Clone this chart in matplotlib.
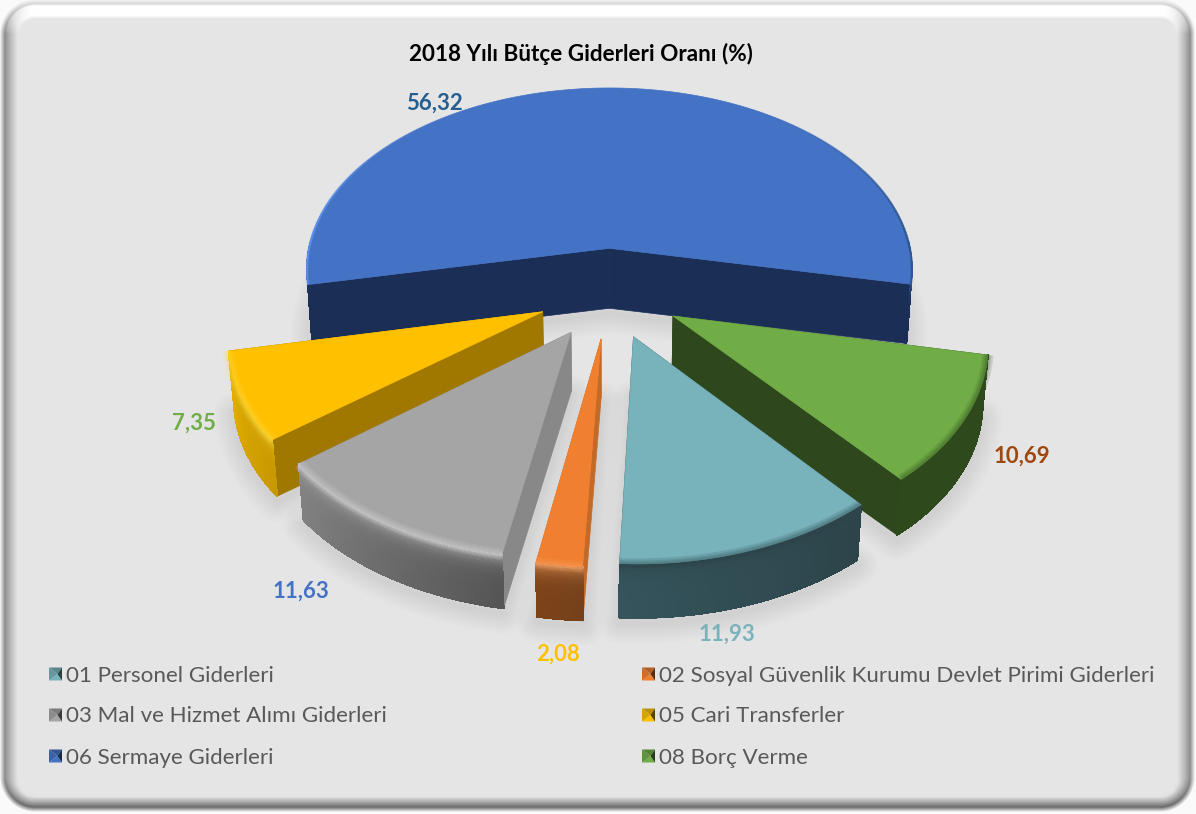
import numpy as np
import matplotlib
matplotlib.use("Agg")
import matplotlib.pyplot as plt
from matplotlib.collections import LineCollection, PolyCollection
from matplotlib.colors import to_rgb
from matplotlib.patches import Polygon

plt.rcParams["font.family"] = ["Lato", "DejaVu Sans"]

title = "2018 Yılı Bütçe Giderleri Oranı (%)"
categories = [
    "01 Personel Giderleri",
    "02 Sosyal Güvenlik Kurumu Devlet Pirimi Giderleri",
    "03 Mal ve Hizmet Alımı Giderleri",
    "05 Cari Transferler",
    "06 Sermaye Giderleri",
    "08 Borç Verme",
]
shares = [11.93, 2.08, 11.63, 7.35, 56.32, 10.69]

top_colors = ["#78b3bc", "#f08030", "#a5a5a5", "#ffc000", "#4472c4", "#70ad47"]
wall_colors = ["#2f474d", "#c46a28", "#888888", "#a07800", "#1a2e56", "#2e471d"]
# outer face colours at the start and the end of each slice
side_start = ["#2c444a", "#75401a", "#555555", "#c89800", "#1a2e56", "#2e4a1d"]
side_end = ["#35545b", "#7c4318", "#808080", "#e2ad00", "#1a2e56", "#2e4a1d"]
rim_tint = ["#2c444a", "#f9a468", "#d4d4d4", "#ffdc40", "#4472c4", "#2e4a1d"]
label_colors = ["#7ab3bb", "#ffc000", "#4472c4", "#70ad47", "#255e91", "#9e480e"]
label_xy = [(727, 634), (558, 654), (301, 591), (194, 423), (434, 103), (1022, 456)]
legend_xy = [(49, 674), (642, 674), (49, 715), (642, 715), (49, 756), (642, 756)]

# view of the tilted disc
CX, CY = 609.5, 292.5
SCALE_X, SCALE_Y, PERSPECTIVE = 309, 189.5, 0.12
EXPLODE_X, EXPLODE_Y = 0.235, 0.24
PULLED_RADIUS = 0.995
FIRST_ANGLE = 139.8
MAIN_SLICE = 4
DRAW_ORDER = [4, 5, 3, 2, 0, 1]


def project(x, y):
    w = 1 + PERSPECTIVE * y
    return CX + SCALE_X * x / w, CY - SCALE_Y * y / w


def drop(sx, sy):
    # the lower face sits a little further away, depth shrinks towards the front
    return CX + (sx - CX) * 0.985, sy + 60 - (sy - 247) * 0.019


def mix(a, b, t):
    a, b = np.array(to_rgb(a)), np.array(to_rgb(b))
    return tuple(a + (b - a) * t)


def panel_image(w, h):
    # bevelled rounded card, shaded from a signed distance to its edge
    x0, y0, x1, y1, r = 5, 4, 1190, 807, 30
    px, py = np.meshgrid(np.arange(w) + 0.5, np.arange(h) + 0.5)
    qx = np.abs(px - (x0 + x1) / 2) - (x1 - x0) / 2 + r
    qy = np.abs(py - (y0 + y1) / 2) - (y1 - y0) / 2 + r
    d = np.hypot(np.maximum(qx, 0), np.maximum(qy, 0)) + np.minimum(np.maximum(qx, qy), 0) - r
    gy, gx = np.gradient(d)
    up = np.clip(-gy / np.maximum(np.hypot(gx, gy), 1e-6), -1, 1)

    t = np.clip(-d / 15, 0, 1)
    flat = 229.0
    top = np.where(t < 0.12, 215 + 40 * t / 0.12, 255 - (255 - flat) * np.clip((t - 0.75) / 0.25, 0, 1))
    side = 140 + (flat - 140) * np.clip(t / 0.85, 0, 1) ** 0.8
    bottom = 105 + (flat - 105) * np.clip(t / 0.7, 0, 1) ** 0.9
    val = np.where(up > 0, side + up * (top - side), side + (-up) * (bottom - side))

    outside = np.clip(d / 5, 0, 1)
    val = val * (1 - outside) + 250 * outside
    return np.clip(val, 0, 255).astype(np.uint8)


fig = plt.figure(figsize=(11.96, 8.14), dpi=100)
ax = fig.add_axes([0, 0, 1, 1])
ax.set_xlim(0, 1196)
ax.set_ylim(814, 0)
ax.axis("off")
ax.imshow(panel_image(1196, 814), cmap="gray", vmin=0, vmax=255,
          extent=(0, 1196, 814, 0), aspect="auto", zorder=0)

# slice outlines on the upper face
spans = np.array(shares) / sum(shares) * 360
slices = []
angle = FIRST_ANGLE
for i, span in enumerate(spans):
    theta = np.radians(np.linspace(angle, angle + span, max(int(span), 8) + 1))
    mid = np.radians(angle + span / 2)
    ox, oy = EXPLODE_X * np.sin(mid), EXPLODE_Y * np.cos(mid)
    radius = 1.0 if i == MAIN_SLICE else PULLED_RADIUS
    rim = project(ox + radius * np.sin(theta), oy + radius * np.cos(theta))
    apex = project(ox, oy)
    slices.append((theta, apex, rim))
    angle += span

# soft contact shadows below all the slices
for theta, apex, rim in slices:
    bx, by = drop(np.r_[apex[0], rim[0]], np.r_[apex[1], rim[1]])
    pts = np.c_[bx, by + 5]
    for lw in range(3, 33, 3):
        ax.add_patch(Polygon(pts, closed=True, fc="none", ec="black", lw=lw,
                             alpha=0.009, joinstyle="round", zorder=1))

z = 2
for i in DRAW_ORDER:
    theta, apex, rim = slices[i]
    rx, ry = rim
    n = len(theta)
    front = [s for s in range(n - 1) if np.cos((theta[s] + theta[s + 1]) / 2) <= 0.03]

    # radial walls, the one further back goes first
    for k in sorted([0, -1], key=lambda k: ry[k]):
        ex, ey = rx[k], ry[k]
        a2, b2 = drop(apex[0], apex[1]), drop(ex, ey)
        ax.add_patch(Polygon([apex, (ex, ey), b2, a2], closed=True, fc=wall_colors[i],
                             ec=wall_colors[i], lw=0.5, zorder=z))

    # outer face, cut into small cells to carry the shading
    cells, cell_colors, floor_lines, floor_colors = [], [], [], []
    bands = np.linspace(0, 1, 31)
    for s in front:
        base = mix(side_start[i], side_end[i], s / max(n - 2, 1))
        xd_a, yd_a = drop(rx[s], ry[s])
        xd_b, yd_b = drop(rx[s + 1], ry[s + 1])
        for v0, v1 in zip(bands[:-1], bands[1:]):
            cells.append([
                (rx[s] + (xd_a - rx[s]) * v0, ry[s] + (yd_a - ry[s]) * v0),
                (rx[s + 1] + (xd_b - rx[s + 1]) * v0, ry[s + 1] + (yd_b - ry[s + 1]) * v0),
                (rx[s + 1] + (xd_b - rx[s + 1]) * v1, ry[s + 1] + (yd_b - ry[s + 1]) * v1),
                (rx[s] + (xd_a - rx[s]) * v1, ry[s] + (yd_a - ry[s]) * v1),
            ])
            cell_colors.append(mix(base, rim_tint[i], np.exp(-((v0 + v1) / 2) / 0.13)))
        floor_lines.append([(xd_a, yd_a), (xd_b, yd_b)])
        floor_colors.append(base)
    if cells:
        ax.add_collection(PolyCollection(cells, facecolors=cell_colors, edgecolors=cell_colors,
                                         linewidths=0.7, antialiased=False, zorder=z + 1))
        ax.add_collection(LineCollection(floor_lines, colors=floor_colors, linewidths=1.0,
                                         capstyle="round", zorder=z + 1))

    ax.add_patch(Polygon(np.r_[[apex], np.c_[rx, ry]], closed=True, fc=top_colors[i],
                         ec=top_colors[i], lw=0.5, joinstyle="round", zorder=z + 2))

    # soft bevel along the front of the rim
    if i != MAIN_SLICE:
        rim_lines = [[(rx[s], ry[s]), (rx[s + 1], ry[s + 1])] for s in front]
        for lw in (8, 5, 3):
            ax.add_collection(LineCollection(rim_lines, colors=rim_tint[i], linewidths=lw,
                                             alpha=0.16, capstyle="butt", zorder=z + 2))
    else:
        # thin edge on the big slice, bright on the left and dark on the right
        for s in range(n - 1):
            st = np.sin((theta[s] + theta[s + 1]) / 2)
            edge = "#5b91ea" if st < 0 else "#2f5590"
            ax.plot(rx[s:s + 2], ry[s:s + 2], color=edge, lw=1.6, alpha=min(st ** 6, 1),
                    solid_capstyle="butt", zorder=z + 2)
    z += 3

ax.text(581, 54, title, ha="center", va="center", fontsize=16.2, fontweight="bold",
        color="black", zorder=50)

for value, color, (x, y) in zip(shares, label_colors, label_xy):
    ax.text(x, y, f"{value:.2f}".replace(".", ","), ha="center", va="center", fontsize=16,
            fontweight="bold", color=color, zorder=50)

# legend keys are small bevelled squares
for name, color, (x, y) in zip(categories, top_colors, legend_xy):
    x1, y0, y1 = x + 13, y - 6.5, y + 6.5
    tip = (x + 8.5, y)
    faces = [
        ([(x, y1), (x1, y1), tip], color),
        ([(x, y0), (x1, y0), tip], mix(color, "black", 0.25)),
        ([(x, y0), (x, y1), tip], mix(color, "black", 0.15)),
        ([(x1, y0), (x1, y1), tip], mix(color, "black", 0.65)),
    ]
    for pts, c in faces:
        ax.add_patch(Polygon(pts, closed=True, fc=c, ec="none", zorder=50))
    ax.text(x + 17, y + 1.5, name, ha="left", va="center", fontsize=16.1, color="#595959", zorder=50)

fig.savefig("out.png", dpi=100)
